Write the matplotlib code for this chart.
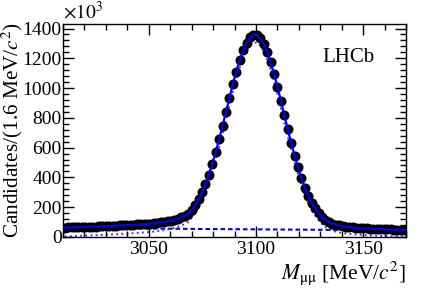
import numpy as np
import matplotlib.pyplot as plt
from matplotlib.ticker import MultipleLocator

plt.rcParams['font.family'] = ['Liberation Serif', 'DejaVu Serif']
plt.rcParams['mathtext.fontset'] = 'stix'

# mass window: 100 bins of 1.6 MeV between 3010 and 3170
m_lo, m_hi, bin_w = 3010.0, 3170.0, 1.6

# candidates per bin (x10^3)
counts = [63, 64, 65, 65, 66, 67, 68, 69, 70, 70,
          71, 72, 73, 74, 75, 76, 77, 78, 79, 81,
          82, 84, 84, 86, 88, 90, 92, 95, 97, 101,
          105, 110, 116, 123, 132, 142, 155, 181, 213, 252,
          299, 353, 418, 490, 570, 656, 747, 840, 934, 1025,
          1111, 1188, 1254, 1304, 1340, 1357, 1356, 1336, 1298, 1243,
          1175, 1096, 1008, 915, 819, 725, 632, 546, 467, 395,
          331, 276, 228, 191, 160, 135, 115, 101, 90, 83,
          77, 73, 70, 67, 64, 62, 60, 58, 57, 56,
          54, 53, 52, 51, 50, 50, 49, 48, 47, 47]

# signal component (dotted), same bins
signal = [3, 4, 5, 6, 7, 8, 9, 10, 11, 12,
          13, 14, 15, 16, 17, 18, 20, 21, 22, 24,
          25, 27, 28, 30, 32, 34, 36, 39, 42, 46,
          50, 55, 61, 68, 77, 88, 101, 127, 159, 198,
          245, 300, 365, 437, 517, 603, 694, 788, 882, 973,
          1059, 1136, 1202, 1253, 1289, 1306, 1305, 1285, 1247, 1193,
          1125, 1046, 958, 865, 769, 675, 583, 497, 418, 346,
          282, 227, 180, 143, 112, 87, 67, 53, 43, 36,
          30, 26, 23, 20, 18, 16, 14, 12, 11, 10,
          9, 8, 7, 6, 5, 5, 4, 4, 3, 3]

# combinatorial background (dashed), end points of the window
bkg_mass = [m_lo, m_hi]
bkg = [60, 44]

mass = np.arange(m_lo + bin_w / 2, m_hi, bin_w)

fig = plt.figure(figsize=(4.27, 2.90), dpi=100)
ax = fig.add_axes([0.1475, 0.183, 0.8035, 0.734])

ax.plot(bkg_mass, bkg, color='#0000ff', lw=1.5, dashes=(2.2, 1.4), zorder=1)
ax.plot(mass, signal, color='#3a3aff', lw=1.4, ls=':', zorder=1)
ax.plot(mass, counts, 'o', color='k', ms=6.2, zorder=2)
ax.plot(mass, counts, color='#0000ff', lw=1.6, zorder=3)

ax.set_xlim(m_lo, m_hi)
ax.set_ylim(0, 1430)
ax.xaxis.set_major_locator(MultipleLocator(50))
ax.xaxis.set_minor_locator(MultipleLocator(10))
ax.yaxis.set_major_locator(MultipleLocator(200))
ax.yaxis.set_minor_locator(MultipleLocator(40))
ax.tick_params(which='both', direction='in', top=True, right=True,
               labelsize=14, width=1.0)
ax.tick_params(which='major', length=8)
ax.tick_params(axis='y', which='major', pad=1)
ax.tick_params(axis='x', which='major', pad=3)
ax.tick_params(which='minor', length=4)
for s in ax.spines.values():
    s.set_linewidth(1.0)

ax.set_ylabel(r'Candidates/(1.6 MeV/$c^{2}$)', fontsize=15.3, loc='top')
ax.yaxis.set_label_coords(-0.112, 1.008)
ax.set_xlabel(r'$M_{\mathrm{μμ}}$ [MeV/$c^{2}$]', fontsize=15.5, loc='right',
              labelpad=1)
ax.text(0.0, 1.005, r'$\times10^{3}$', transform=ax.transAxes,
        fontsize=14, ha='left', va='bottom')
ax.text(0.757, 0.82, 'LHCb', transform=ax.transAxes, fontsize=15,
        ha='left', va='baseline')

fig.savefig('out.png', dpi=100)
